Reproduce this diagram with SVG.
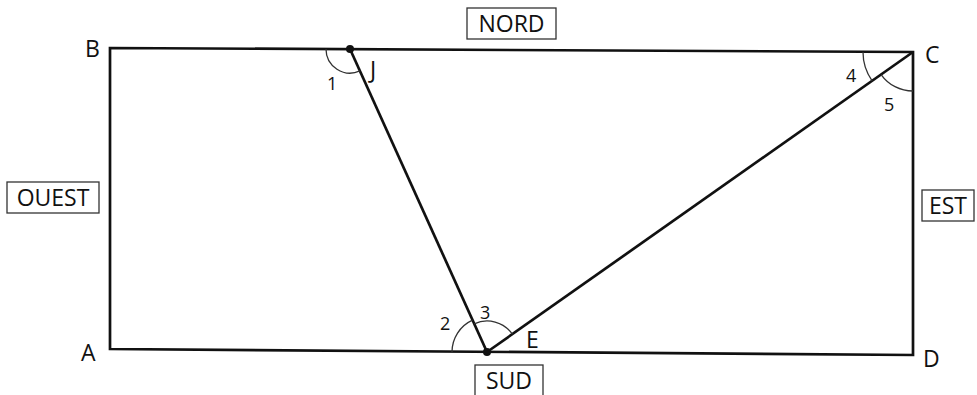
<svg xmlns="http://www.w3.org/2000/svg" width="977" height="395" viewBox="0 0 977 395">
<style>
.edge{fill:none;stroke:#111;stroke-width:2.7;stroke-linejoin:miter}
.arc{fill:none;stroke:#333;stroke-width:1.3}
.box{fill:#fff;stroke:#333;stroke-width:1.3}
.lbl{font-family:"Open Sans","DejaVu Sans",sans-serif;font-size:23px;fill:#111}
.num{font-family:"Open Sans","DejaVu Sans",sans-serif;font-size:18px;fill:#111}
.dir{font-family:"Open Sans","DejaVu Sans",sans-serif;font-size:23px;fill:#111;text-anchor:middle}
.dot{fill:#111}
</style>
<rect width="977" height="395" fill="#fff"/>
<g id="connectors">
<polygon class="edge" points="110,48 913,52 913,355 110,349"/>
<line class="edge" x1="350" y1="49" x2="487" y2="352"/>
<line class="edge" x1="487" y1="352" x2="913" y2="52"/>
</g>
<g id="angles">
<path class="arc" d="M326,49 A24,24 0 0 0 359.9,70.9"/>
<path class="arc" d="M452,352 A35,35 0 0 1 472.5,320.1"/>
<path class="arc" d="M474.2,323.8 A31,31 0 0 1 512.4,334.1"/>
<path class="arc" d="M863,52 A50,50 0 0 0 872.1,80.8"/>
<path class="arc" d="M881.1,74.5 A39,39 0 0 0 913,91"/>
</g>
<g id="J"><circle class="dot" cx="350" cy="49" r="4"/><text class="lbl" x="370" y="78">J</text></g>
<g id="E"><circle class="dot" cx="487" cy="352" r="4"/><text class="lbl" x="526" y="348">E</text></g>
<g id="B"><text class="lbl" x="85" y="57">B</text></g>
<g id="C"><text class="lbl" x="925" y="63">C</text></g>
<g id="A"><text class="lbl" x="81" y="361">A</text></g>
<g id="D"><text class="lbl" x="923" y="367">D</text></g>
<g id="numbers">
<text class="num" x="327" y="90">1</text>
<text class="num" x="440" y="330">2</text>
<text class="num" x="480" y="319">3</text>
<text class="num" x="846" y="82">4</text>
<text class="num" x="884" y="111">5</text>
</g>
<g id="NORD"><rect class="box" x="467" y="8" width="89" height="31"/><text class="dir" x="511.5" y="32">NORD</text></g>
<g id="OUEST"><rect class="box" x="7" y="182" width="92" height="31"/><text class="dir" x="53" y="206">OUEST</text></g>
<g id="EST"><rect class="box" x="922" y="190" width="52" height="31"/><text class="dir" x="948" y="214">EST</text></g>
<g id="SUD"><rect class="box" x="475" y="365" width="68" height="31"/><text class="dir" x="509" y="389">SUD</text></g>
</svg>
